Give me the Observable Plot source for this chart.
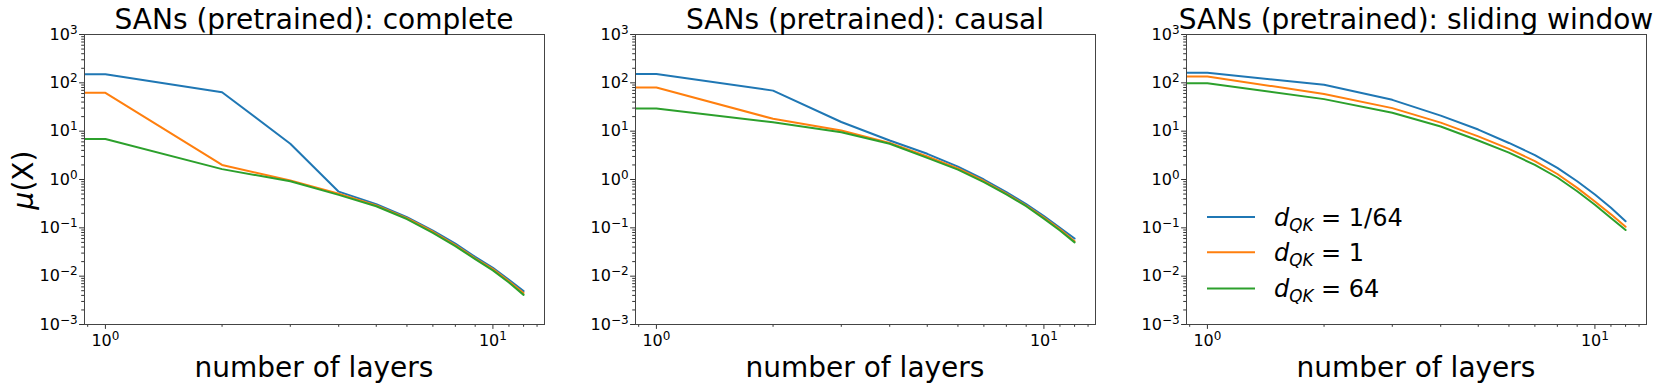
<!DOCTYPE html>
<html><head><meta charset="utf-8">
<script src="https://cdn.jsdelivr.net/npm/d3@7"></script>
<script src="https://cdn.jsdelivr.net/npm/@observablehq/plot@0.6"></script>
<style>
body{margin:0;background:#fff;font-family:"DejaVu Sans",sans-serif;}
#root{position:relative;width:1661px;height:385px;overflow:hidden;background:#fff;}
.panel{position:absolute;top:0;}
#overlay{position:absolute;left:0;top:0;pointer-events:none;}
</style></head><body><div id="root"></div>
<script>
// ---- data ----
const layers = [1, 2, 3, 4, 5, 6, 7, 8, 9, 10, 11, 12];
const seriesLabels = ["1/64", "1", "64"];
const seriesColors = ["#1f77b4", "#ff7f0e", "#2ca02c"];
const panelTitles = ["SANs (pretrained): complete", "SANs (pretrained): causal", "SANs (pretrained): sliding window"];
const yTicks = [1e-3, 1e-2, 1e-1, 1e0, 1e1, 1e2, 1e3];
const xTicks = [1, 10];

const completeQK1_64 = [151, 64, 5.5, 0.56, 0.31, 0.166, 0.088, 0.047, 0.025, 0.0149, 0.0084, 0.0049];
const completeQK1    = [62, 2.0, 0.95, 0.51, 0.29, 0.158, 0.083, 0.044, 0.0235, 0.014, 0.0078, 0.0045];
const completeQK64   = [6.9, 1.64, 0.92, 0.48, 0.28, 0.152, 0.079, 0.042, 0.0225, 0.0132, 0.0074, 0.0041];

const causalQK1_64 = [153, 69, 15.5, 6.4, 3.4, 1.85, 1.0, 0.55, 0.31, 0.175, 0.1, 0.06];
const causalQK1    = [80, 18, 10.3, 5.7, 3.0, 1.7, 0.93, 0.51, 0.29, 0.163, 0.093, 0.053];
const causalQK64   = [29.4, 15.3, 9.5, 5.5, 2.8, 1.6, 0.88, 0.49, 0.28, 0.155, 0.088, 0.05];

const slidingQK1_64 = [161, 91, 44.5, 21, 10.8, 5.7, 3.2, 1.74, 0.92, 0.49, 0.26, 0.137];
const slidingQK1    = [135, 59, 30, 15, 7.8, 4.3, 2.4, 1.3, 0.67, 0.35, 0.19, 0.105];
const slidingQK64   = [98, 46, 24, 12.5, 6.4, 3.6, 2.0, 1.1, 0.57, 0.3, 0.16, 0.09];

const panelsData = [
  [completeQK1_64, completeQK1, completeQK64],
  [causalQK1_64, causalQK1, causalQK64],
  [slidingQK1_64, slidingQK1, slidingQK64]
];

// ---- layout ----
const ML = 70, MR = 10, MT = 34, MB = 61, W = 540, H = 385;
const frameLefts = [84, 635, 1186];
const xDomain = [Math.pow(10, -0.05396), Math.pow(10, Math.log10(12) * 1.05)];
const fmtPow = d => "10^" + Math.round(Math.log10(d));
const minorY = [];
for (let e = -3; e < 3; e++) for (let m = 2; m <= 9; m++) minorY.push(m * Math.pow(10, e));
const minorX = [0.9, 2, 3, 4, 5, 6, 7, 8, 9, 11, 12, 13];

const root = document.getElementById("root");

panelsData.forEach((series, i) => {
  const rows = [];
  series.forEach((vals, s) => {
    // matplotlib draws the segment from the clipped left edge at the first value
    rows.push({layer: xDomain[0], value: vals[0], s: seriesLabels[s]});
    layers.forEach((l, j) => rows.push({layer: l, value: vals[j], s: seriesLabels[s]}));
  });
  const chart = Plot.plot({
    width: W, height: H, marginLeft: ML, marginRight: MR, marginTop: MT, marginBottom: MB,
    style: {fontFamily: "DejaVu Sans", fontSize: "16px", color: "#000", background: "transparent", overflow: "visible"},
    x: {type: "log", domain: xDomain},
    y: {type: "log", domain: [1e-3, 1e3]},
    color: {domain: seriesLabels, range: seriesColors},
    marks: [
      Plot.axisY(minorY, {tickSize: 2.8, tickFormat: () => "", label: null, stroke: "#333"}),
      Plot.axisY(yTicks, {tickSize: 4.9, tickPadding: 2, tickFormat: fmtPow, label: null, stroke: "#333", fontSize: 16}),
      Plot.axisX(minorX.filter(v => v >= xDomain[0] && v <= xDomain[1]), {tickSize: 2.8, tickFormat: () => "", label: null, stroke: "#333"}),
      Plot.axisX(xTicks, {tickSize: 4.9, tickPadding: 5, tickFormat: fmtPow, label: null, stroke: "#333", fontSize: 16}),
      Plot.line(rows, {x: "layer", y: "value", z: "s", stroke: "s", strokeWidth: 2, clip: true}),
      Plot.frame({stroke: "#444", strokeWidth: 1})
    ]
  });
  // render "10^k" tick labels as 10 with a raised exponent (like matplotlib mathtext)
  d3.select(chart).selectAll("text").each(function() {
    const txt = this.textContent;
    const m = /^10\^(-?\d+)$/.exec(txt);
    if (!m) return;
    const el = d3.select(this);
    el.text("");
    el.append("tspan").text("10");
    el.append("tspan").attr("font-size", 12).attr("dy", -6).text(m[1].replace("-", "−"));
  });
  chart.classList.add("panel");
  chart.style.left = (frameLefts[i] - ML) + "px";
  root.appendChild(chart);
});

// ---- overlay text: titles, axis labels, legend ----
const svg = d3.select(root).append("svg").attr("id", "overlay").attr("width", 1661).attr("height", 385)
  .attr("font-family", "DejaVu Sans");
const plotW = W - ML - MR;
panelTitles.forEach((t, i) => {
  const cx = frameLefts[i] + plotW / 2;
  svg.append("text").attr("x", cx).attr("y", 29).attr("text-anchor", "middle").attr("font-size", 28).attr("fill", "#000").text(t);
  svg.append("text").attr("x", cx).attr("y", 377).attr("text-anchor", "middle").attr("font-size", 28).attr("fill", "#000").text("number of layers");
});
const yl = svg.append("text").attr("transform", "translate(33,180) rotate(-90)").attr("text-anchor", "middle").attr("font-size", 28).attr("fill", "#000");
yl.append("tspan").attr("font-style", "italic").text("μ");
yl.append("tspan").text("(X)");

const legRows = [217, 252.3, 288.5];
seriesLabels.forEach((lab, s) => {
  const y = legRows[s];
  svg.append("line").attr("x1", 1207).attr("x2", 1255).attr("y1", y).attr("y2", y).attr("stroke", seriesColors[s]).attr("stroke-width", 2);
  const t = svg.append("text").attr("x", 1274).attr("y", y + 8.5).attr("font-size", 24).attr("fill", "#000");
  t.append("tspan").attr("font-style", "italic").text("d");
  t.append("tspan").attr("font-style", "italic").attr("font-size", 16.8).attr("dy", 5).text("QK");
  t.append("tspan").attr("dy", -5).text(" = " + lab);
});
</script>
</body></html>
